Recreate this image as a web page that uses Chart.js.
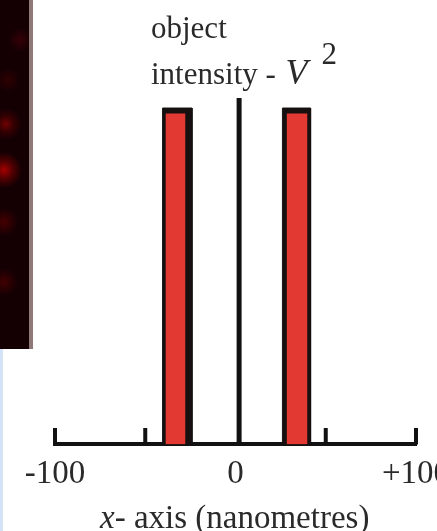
<!DOCTYPE html>
<html>
<head>
<meta charset="utf-8">
<script src="https://cdn.jsdelivr.net/npm/chart.js@4/dist/chart.umd.min.js"></script>
<style>
  html, body { margin: 0; padding: 0; background: #fff; overflow: hidden; }
  body { width: 437px; height: 531px; position: relative; }
  #plot { position: absolute; left: 0; top: 0; }
  #micro {
    position: absolute; left: 0; top: 0; width: 29px; height: 349px;
    background:
      radial-gradient(circle at 4px 170px, rgba(190,0,0,0.85) 0, rgba(140,0,0,0.5) 9px, rgba(0,0,0,0) 18px),
      radial-gradient(circle at 6px 124px, rgba(150,0,0,0.7) 0, rgba(110,0,0,0.35) 8px, rgba(0,0,0,0) 16px),
      radial-gradient(circle at 4px 222px, rgba(110,0,0,0.55) 0, rgba(0,0,0,0) 14px),
      radial-gradient(circle at 20px 40px, rgba(80,0,10,0.55) 0, rgba(0,0,0,0) 12px),
      radial-gradient(circle at 4px 282px, rgba(100,0,0,0.55) 0, rgba(0,0,0,0) 14px),
      radial-gradient(circle at 8px 80px, rgba(80,0,0,0.45) 0, rgba(0,0,0,0) 12px),
      #140003;
  }
  #microEdge { position: absolute; left: 29px; top: 0; width: 4px; height: 349px; background: #8e7878; }
  #blueEdge { position: absolute; left: 0; top: 349px; width: 3px; height: 182px; background: #d4e4f6; }
  .lab { position: absolute; font-family: "Liberation Serif", "Times New Roman", serif; color: #2a2a2a; white-space: nowrap; }
  #ylab { left: 151px; top: 6px; font-size: 31px; line-height: 44px; }
  #ylab i { font-size: 36px; margin-left: 2px; }
  #ylab .sup { position: relative; top: -20px; margin-left: 14px; }
  #xlab { left: 100px; top: 501px; font-size: 33px; line-height: 33px; }
</style>
</head>
<body>
<div id="micro"></div>
<div id="microEdge"></div>
<div id="blueEdge"></div>
<canvas id="plot" width="480" height="531"></canvas>
<div class="lab" id="ylab">object<br>intensity - <i>V</i><span class="sup">2</span></div>
<div class="lab" id="xlab"><i>x</i>- axis (nanometres)</div>
<script>
// x positions in nanometres, heights in arbitrary intensity units
const axisTicks = [-100, -50, 0, 50, 100];
const tickLabels = ['-100', '', '0', '', '+100'];
const tickMarks = [-100, -50, 50, 100];
const tickMarkHeight = 0.047;

const peakOutline = [[-40.4, -24.1], [26, 41.6]];
const peakFill = [[-38.8, -27.7], [28.3, 39.9]];
const peakHeight = 0.971;
const peakFillHeight = 0.955;

const centreX = 2;
const centreHeight = 1;

function rect(x0, x1, h) {
  return [{x: x0, y: 0}, {x: x0, y: h}, {x: x1, y: h}, {x: x1, y: 0}];
}

let datasets = [];

peakOutline.forEach(function (p) {
  datasets.push({
    data: rect(p[0], p[1], peakHeight),
    showLine: true, fill: 'origin',
    backgroundColor: '#161010', borderColor: '#161010', borderWidth: 1,
    pointRadius: 0, clip: false, order: 3
  });
});

peakFill.forEach(function (p) {
  datasets.push({
    data: rect(p[0], p[1], peakFillHeight),
    showLine: true, fill: 'origin',
    backgroundColor: '#e23a32', borderColor: '#e23a32', borderWidth: 0,
    pointRadius: 0, clip: false, order: 2
  });
});

datasets.push({
  data: [{x: centreX, y: 0}, {x: centreX, y: centreHeight}],
  showLine: true, borderColor: '#121212', borderWidth: 5,
  pointRadius: 0, clip: false, order: 1
});

let markPoints = [];
tickMarks.forEach(function (t) {
  markPoints.push({x: t, y: 0}, {x: t, y: tickMarkHeight}, {x: t, y: null});
});
datasets.push({
  data: markPoints,
  showLine: true, spanGaps: false, borderColor: '#121212', borderWidth: 4,
  pointRadius: 0, clip: false, order: 0
});

let ctx = document.getElementById('plot').getContext('2d');
new Chart(ctx, {
  type: 'scatter',
  data: { datasets: datasets },
  options: {
    responsive: false,
    animation: false,
    layout: { padding: { left: 55, right: 64, top: 98, bottom: 27 } },
    plugins: { legend: { display: false }, tooltip: { enabled: false } },
    scales: {
      x: {
        type: 'linear', min: -100, max: 100,
        afterBuildTicks: function (scale) {
          scale.ticks = axisTicks.map(v => ({ value: v }));
        },
        grid: { display: true, drawOnChartArea: false, drawTicks: false },
        border: { display: true, color: '#121212', width: 4 },
        ticks: {
          autoSkip: false, maxRotation: 0, padding: 10,
          color: '#2a2a2a',
          font: { family: 'Liberation Serif', size: 33 },
          callback: function (v, i) { return tickLabels[i]; }
        }
      },
      y: { display: false, min: 0, max: 1 }
    }
  }
});
</script>
</body>
</html>
